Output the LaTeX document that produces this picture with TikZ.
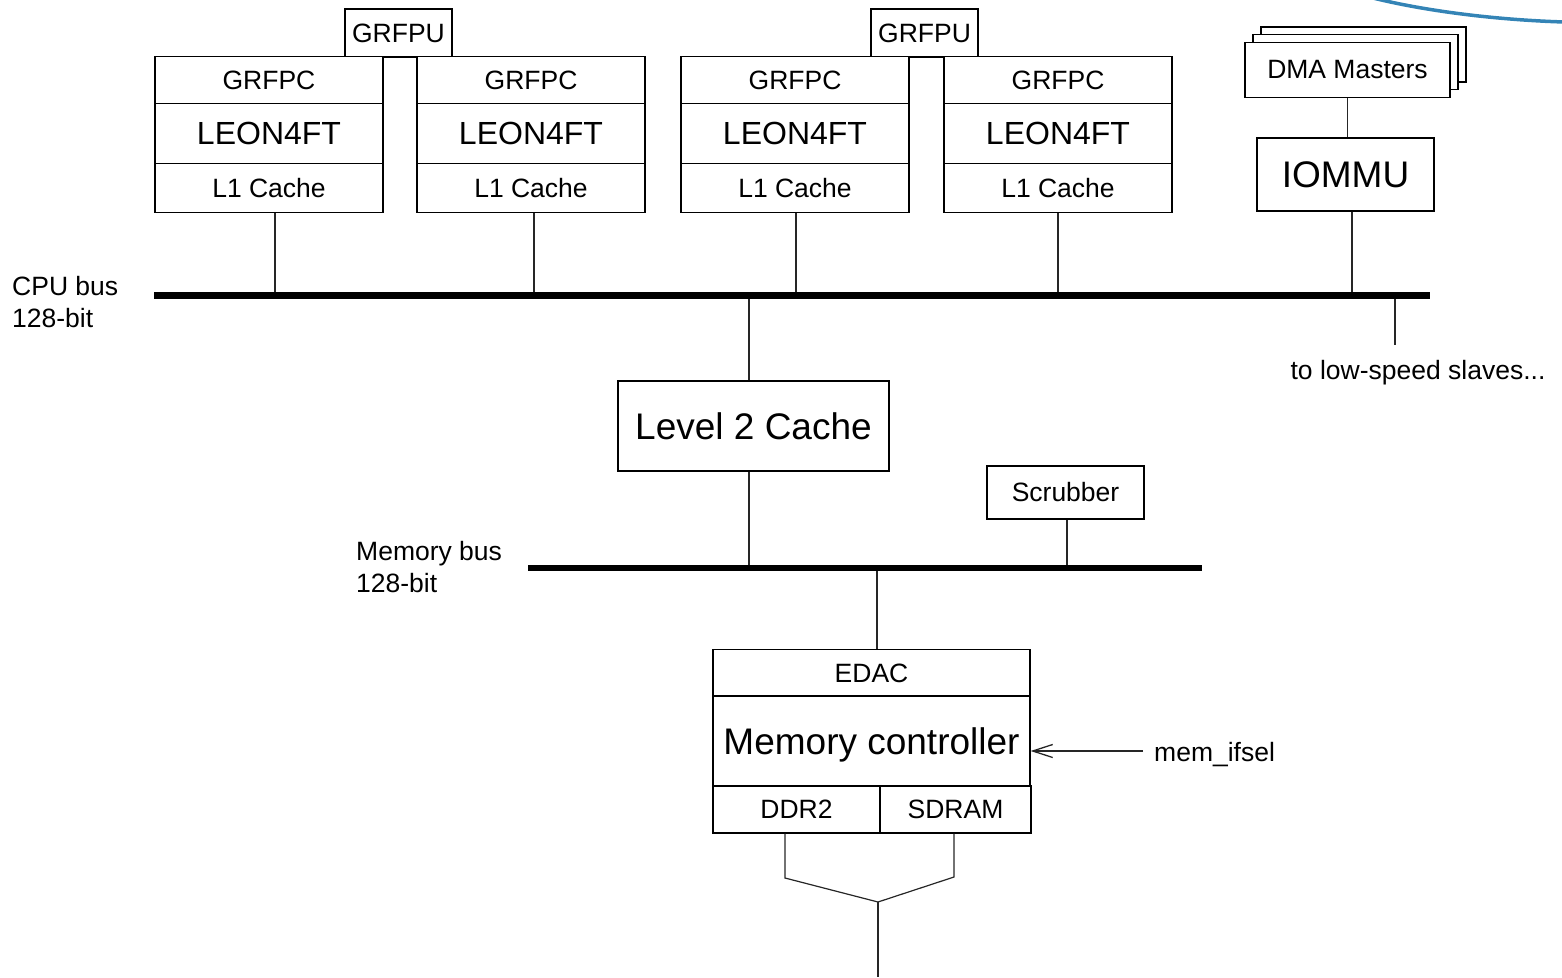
\documentclass[tikz,border=0pt]{standalone}
\usepackage{fontspec}
\setmainfont{Liberation Sans}
\usetikzlibrary{arrows.meta,calc}
\definecolor{curveblue}{RGB}{52,132,182}
\begin{document}
\begin{tikzpicture}[x=1pt,y=-1pt,
  box/.style={draw=black,line width=1.2pt,fill=white,inner sep=0pt,font=\fontsize{26.5}{32}\selectfont},
  bigbox/.style={box,text depth=0pt,font=\fontsize{37}{42}\selectfont},
  leonbox/.style={box,font=\fontsize{32}{38}\selectfont},
  wire/.style={line width=1.2pt,draw=black!85},
  bus/.style={line width=7pt,draw=black},
  lbl/.style={inner sep=0pt,font=\fontsize{26.5}{32}\selectfont,align=left}]
\useasboundingbox (0,0) rectangle (1562,977);

% blue curve top right
\draw[curveblue,line width=3.5pt] (1373,-2) .. controls (1430,12) and (1500,20) .. (1564,22);

% bus coordinates
\coordinate (cpuL) at (154,295);
\coordinate (cpuR) at (1430,295);
\coordinate (memL) at (528,568);
\coordinate (memR) at (1202,568);

% GRFPU
\node[box,minimum width=107pt,minimum height=48pt] (gpu1) at (398.5,33) {GRFPU};
\node[box,minimum width=107pt,minimum height=48pt] (gpu2) at (924.5,33) {GRFPU};

% cores
\foreach \n/\L/\s in {a/155/6,b/417/3,c/681/1,d/944/0}{
  \node[box,minimum width=228pt,minimum height=47pt] (fpc\n) at (\L+114,80) {GRFPC};
  \node[leonbox,minimum width=228pt,minimum height=60pt] (leon\n) at (\L+114,133.5) {LEON4FT};
  \node[box,minimum width=228pt,minimum height=49pt] (lone\n) at (\L+114,188) {L1 Cache};
  \draw[wire] ([xshift=\s pt]lone\n.south) -- ([xshift=\s pt]lone\n.south |- cpuL);
}

% DMA masters stack
\node[box,minimum width=205pt,minimum height=55pt] (dma3) at (1363.5,54.5) {};
\node[box,minimum width=205pt,minimum height=55pt] (dma2) at (1355.5,62) {};
\node[box,minimum width=205pt,minimum height=55pt] (dma1) at (1347.5,70) {DMA Masters};
\node[bigbox,minimum width=177pt,minimum height=73pt] (iommu) at (1345.5,174.5) {IOMMU};
\draw[wire] (dma1.south) -- (dma1.south |- iommu.north);
\draw[wire] ([xshift=6.5pt]iommu.south) -- ([xshift=6.5pt]iommu.south |- cpuL);

% low speed
\coordinate (ls) at (1395,345);
\draw[wire] (ls |- cpuL) -- (ls);
\node[lbl,anchor=base] (lstxt) at (1418,379) {to low-speed slaves...};

% CPU bus label
\node[lbl,anchor=north west] (cpulbl) at (12,276) {CPU bus\\128-bit};

% Level 2 cache
\node[bigbox,minimum width=271pt,minimum height=90pt] (l2) at (753.5,426) {Level 2 Cache};
\draw[wire] ([xshift=-4.5pt]l2.north) -- ([xshift=-4.5pt]l2.north |- cpuL);
\draw[wire] ([xshift=-4.5pt]l2.south) -- ([xshift=-4.5pt]l2.south |- memL);

% Scrubber
\node[box,minimum width=157pt,minimum height=53pt] (scrub) at (1065.5,492.5) {Scrubber};
\draw[wire] ([xshift=1.5pt]scrub.south) -- ([xshift=1.5pt]scrub.south |- memL);

% Memory bus label
\node[lbl,anchor=north west] (memlbl) at (356,541) {Memory bus\\128-bit};

% Memory controller
\node[box,minimum width=317pt,minimum height=47pt] (edac) at (871.5,673) {EDAC};
\node[bigbox,minimum width=317pt,minimum height=90pt] (mc) at (871.5,741) {Memory controller};
\node[box,minimum width=167pt,minimum height=47pt] (ddr) at (796.5,809.5) {DDR2};
\node[box,minimum width=151pt,minimum height=47pt] (sdram) at (955.5,809.5) {SDRAM};
\draw[wire] ([xshift=5.5pt]edac.north) -- ([xshift=5.5pt]edac.north |- memL);

% buses
\draw[bus] (cpuL) -- (cpuR);
\draw[line width=6pt] (memL) -- (memR);

% mem_ifsel
\coordinate (mi) at (1143,751);
\draw[wire,-{Straight Barb[length=20pt,width=13pt,line width=1.3pt]}] (mi) -- (mc.east |- mi);
\node[lbl,anchor=base west] (mitxt) at (1154,761) {mem\_ifsel};

% output merge
\coordinate (d1) at (785,878);
\coordinate (s1) at (954,877);
\coordinate (mg) at (878,902);
\coordinate (bot) at (878,977);
\draw[wire] (ddr.south -| d1) -- (d1) -- (mg);
\draw[wire] (sdram.south -| s1) -- (s1) -- (mg);
\draw[wire] (mg) -- (bot);
\end{tikzpicture}
\end{document}
